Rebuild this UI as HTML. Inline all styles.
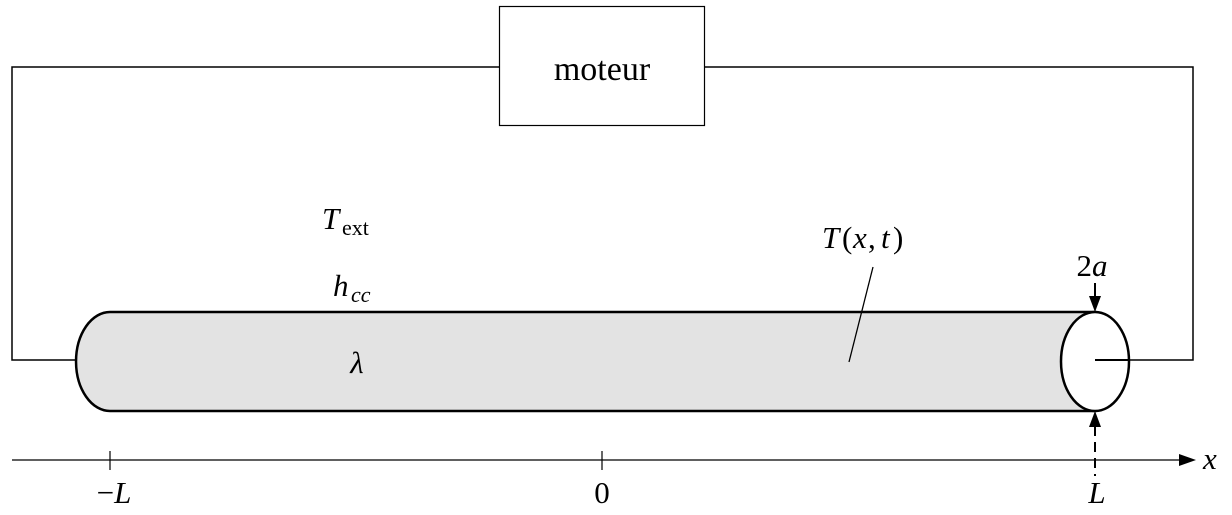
<!DOCTYPE html>
<html><head><meta charset="utf-8"><style>
html,body{margin:0;padding:0;background:#fff;}
svg{display:block;}
text{font-family:"Liberation Serif",serif;font-size:31px;fill:#000;}
.i{font-style:italic;}
</style></head><body>
<svg width="1232" height="515" viewBox="0 0 1232 515" xmlns="http://www.w3.org/2000/svg">
<polyline points="76,360 12,360 12,67 499,67" fill="none" stroke="#000" stroke-width="1.5"/>
<polyline points="705,67 1193,67 1193,360 1095,360" fill="none" stroke="#000" stroke-width="1.5"/>
<rect x="499.5" y="6.5" width="205" height="119" fill="#fff" stroke="#000" stroke-width="1.2"/>
<text x="602" y="80" text-anchor="middle" style="font-size:34px">moteur</text>
<path d="M110,312 L1095,312 L1095,411 L110,411 A34,49.5 0 0 1 110,312 Z" fill="#e3e3e3" stroke="#000" stroke-width="2.5"/>
<ellipse cx="1095" cy="361.5" rx="34" ry="49.5" fill="#fff" stroke="#000" stroke-width="2.5"/>
<line x1="1095" y1="360" x2="1129" y2="360" stroke="#000" stroke-width="2"/>
<line x1="12" y1="460" x2="1182" y2="460" stroke="#000" stroke-width="1.2"/>
<polygon points="1196,460 1179,454 1179,466" fill="#000"/>
<line x1="110" y1="451" x2="110" y2="470" stroke="#000" stroke-width="1.2"/>
<line x1="602" y1="451" x2="602" y2="470" stroke="#000" stroke-width="1.2"/>
<line x1="1095" y1="426" x2="1095" y2="476" stroke="#000" stroke-width="2" stroke-dasharray="10,6"/>
<polygon points="1095,411 1089,427 1101,427" fill="#000"/>
<line x1="1095" y1="283" x2="1095" y2="298" stroke="#000" stroke-width="2"/>
<polygon points="1095,312 1089,296 1101,296" fill="#000"/>
<line x1="873" y1="267" x2="849" y2="362" stroke="#000" stroke-width="1.3"/>
<text x="322" y="229" class="i">T</text><text x="342" y="235" style="font-size:22px">ext</text>
<text x="333" y="296" class="i">h</text><text x="351" y="302" class="i" style="font-size:22px">cc</text>
<text x="357" y="373" text-anchor="middle" class="i">λ</text>
<text x="822" y="248" class="i">T</text><text x="842" y="248">(</text><text x="853" y="248" class="i">x</text><text x="868" y="248">,</text><text x="881" y="248" class="i">t</text><text x="893" y="248">)</text>
<text x="1092" y="276" text-anchor="middle">2<tspan class="i">a</tspan></text>
<text x="114" y="503" text-anchor="middle">−<tspan class="i">L</tspan></text>
<text x="602" y="503" text-anchor="middle">0</text>
<text x="1097" y="503" text-anchor="middle" class="i">L</text>
<text x="1203" y="469" class="i">x</text>
</svg>
</body></html>
